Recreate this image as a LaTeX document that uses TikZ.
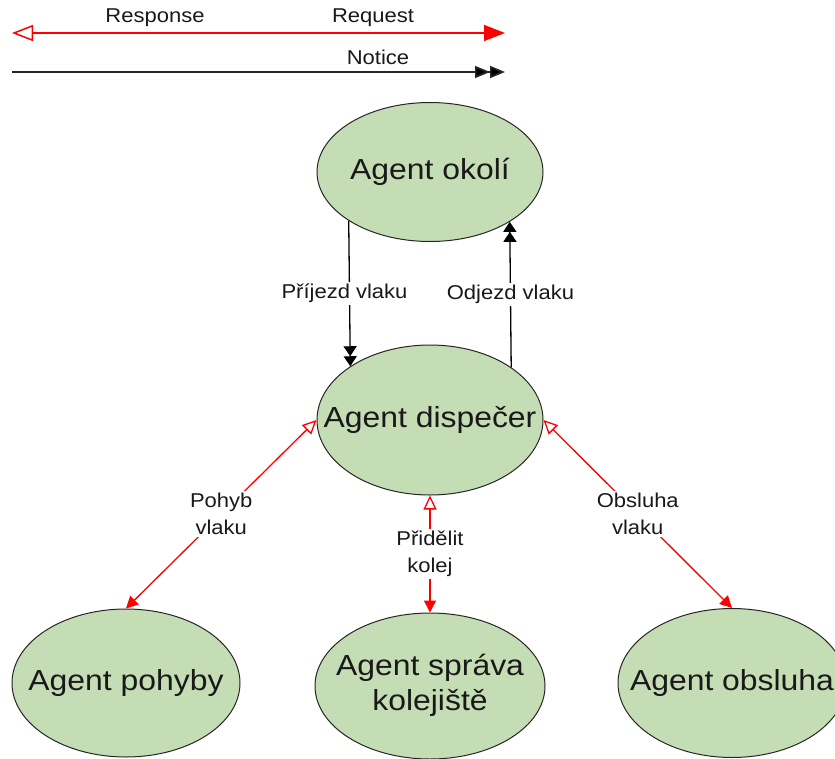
\documentclass[tikz,border=0pt]{standalone}
\usepackage{fontspec}
\setmainfont{Liberation Sans}[FakeStretch=1.1]
\usetikzlibrary{arrows.meta,shapes.geometric}

\definecolor{agentfill}{RGB}{197,221,181}
\definecolor{txt}{RGB}{25,25,25}

\tikzset{
  agent/.style={ellipse, draw=black!85, line width=1pt, fill=agentfill,
    inner sep=0pt, minimum width=228pt, minimum height=146pt,
    font=\fontsize{29}{35}\selectfont, text=txt},
  lbl/.style={fill=white, inner sep=2pt, font=\fontsize{20}{27}\selectfont,
    text=txt, align=center},
  legendtxt/.style={inner sep=0pt, font=\fontsize{20}{24}\selectfont, text=txt},
  notice/.style={draw=black, line width=1.3pt,
    -{Triangle[length=10pt,width=13pt]Triangle[length=10pt,width=13pt]}},
  reqresp/.style={draw=red, line width=1.3pt,
    {Triangle[open,length=14pt,width=13pt]}-{Triangle[length=12pt,width=12pt]}},
  noticekey/.style={draw=black!85, line width=1.6pt,
    -{Triangle[length=15pt,width=12pt,fill=black]Triangle[length=15pt,width=12pt,fill=black]}},
  reqrespkey/.style={draw=red, line width=1.5pt,
    {Triangle[open,length=21pt,width=16pt]}-{Triangle[length=21pt,width=16pt]}},
}

\newcommand{\onecell}[1]{\makebox[0pt]{\begin{tabular}{@{}c@{}}#1\end{tabular}}}

\begin{document}
\begin{tikzpicture}[x=1pt,y=-1pt]
  \useasboundingbox (0,0) rectangle (835,758);

  % key of connector kinds
  \coordinate (rkL) at (12,33);
  \coordinate (rkR) at (505,33);
  \coordinate (nkL) at (12,72);
  \coordinate (nkR) at (505,72);
  \draw[reqrespkey] (rkL) -- (rkR);
  \draw[noticekey] (nkL) -- (nkR);
  \node[legendtxt] (kresp) at (155,18) {Response};
  \node[legendtxt] (kreq) at (373,18) {Request};
  \node[legendtxt] (knot) at (378,57) {Notice};

  % agents
  \node[agent, minimum width=226pt, minimum height=139pt] (okoli) at (430,172) {\onecell{Agent okolí}};
  \node[agent, minimum width=226pt, minimum height=150pt] (disp) at (430,420) {\onecell{Agent dispečer}};
  \node[agent, minimum height=148pt] (pohyby) at (126,683) {\onecell{Agent pohyby}};
  \node[agent, minimum width=230pt] (sprava) at (430,686) {\onecell{Agent správa\\kolejiště}};
  \node[agent, minimum height=149pt] (obsluha) at (732,683) {\onecell{Agent obsluha}};

  % notices between the surroundings agent and the dispatcher
  \draw[notice] (okoli.211.5) -- node[lbl, xshift=-5pt] (lprij) {Příjezd vlaku} (disp.146.5);
  \draw[notice] (disp.33.5) -- node[lbl] (lodj) {Odjezd vlaku} (okoli.328.5);

  % requests from the dispatcher
  \draw[reqresp] (disp.west) -- node[lbl] (lpoh) {Pohyb\\vlaku} (pohyby.north);
  \draw[reqresp] (disp.south) -- node[lbl] (lprid) {Přidělit\\kolej} (sprava.north);
  \draw[reqresp] (disp.east) -- node[lbl] (lobs) {Obsluha\\vlaku} (obsluha.north);
\end{tikzpicture}
\end{document}
